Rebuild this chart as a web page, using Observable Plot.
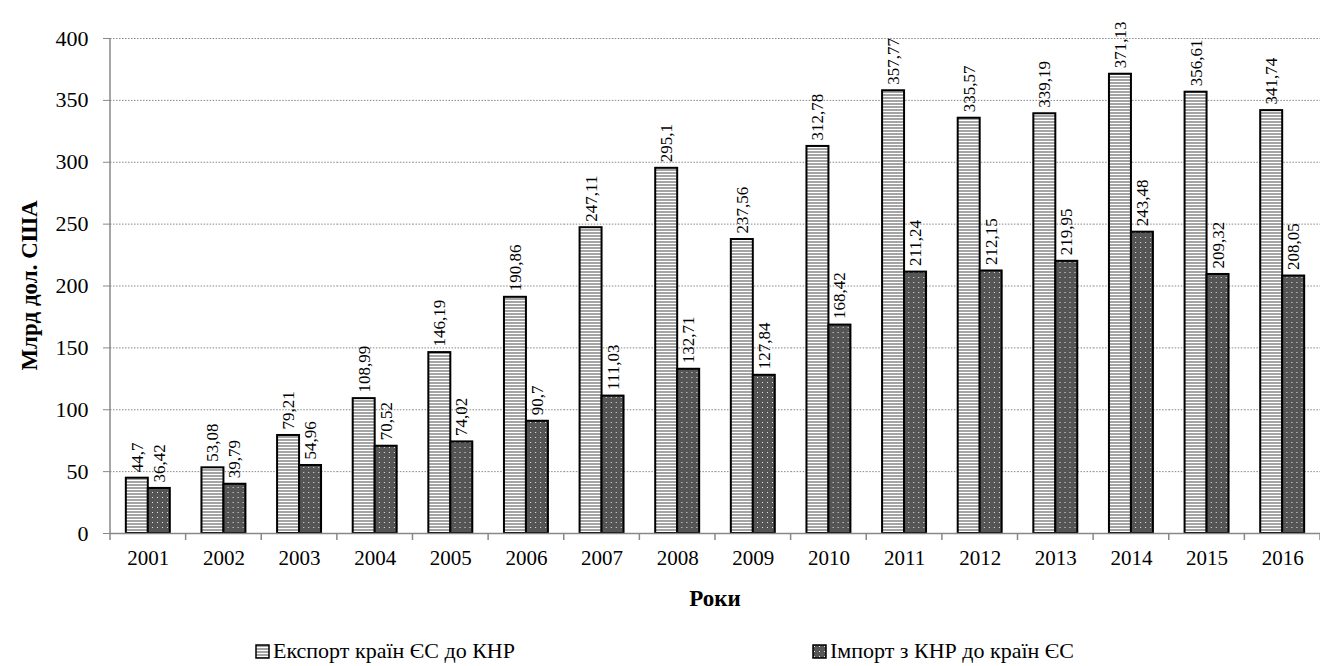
<!DOCTYPE html>
<html><head><meta charset="utf-8">
<script src="https://cdn.jsdelivr.net/npm/d3@7"></script>
<script src="https://cdn.jsdelivr.net/npm/@observablehq/plot@0.6"></script>
<style>
body{margin:0;background:#fff;font-family:"Liberation Serif","Times New Roman","DejaVu Serif",serif;width:1320px;height:666px;overflow:hidden;}
#chart svg{display:block;}
#legend{position:absolute;top:638px;left:255px;display:flex;gap:297px;font-size:22px;color:#000;}
.item{display:flex;align-items:center;gap:3px;white-space:nowrap;}
</style></head><body><div id="chart"></div><div id="legend"></div>
<script>
const years = ["2001","2002","2003","2004","2005","2006","2007","2008","2009","2010","2011","2012","2013","2014","2015","2016"];
const exportVals = [44.7,53.08,79.21,108.99,146.19,190.86,247.11,295.1,237.56,312.78,357.77,335.57,339.19,371.13,356.61,341.74];
const importVals = [36.42,39.79,54.96,70.52,74.02,90.7,111.03,132.71,127.84,168.42,211.24,212.15,219.95,243.48,209.32,208.05];
const seriesNames = ["Експорт країн ЄС до КНР","Імпорт з КНР до країн ЄС"];
const yTicks = [0,50,100,150,200,250,300,350,400];
const patternIds = ["pat-export","pat-import"];
const FONT = "'Liberation Serif','Times New Roman','DejaVu Serif',serif";

const data = years.flatMap((yr,i)=>[
  {year:yr, series:seriesNames[0], value:exportVals[i]},
  {year:yr, series:seriesNames[1], value:importVals[i]}
]);
const fmt = v => String(v).replace(".", ",");

const defsMarkup = `
<pattern id="pat-export" patternUnits="userSpaceOnUse" width="6" height="3">
  <rect width="6" height="3" fill="#a4a4a4"/><rect width="6" height="1" fill="#ffffff"/>
</pattern>
<pattern id="pat-import" patternUnits="userSpaceOnUse" width="5" height="5">
  <rect width="5" height="5" fill="#555555"/><rect x="2" y="2" width="1" height="1" fill="#e6e6e6"/>
</pattern>`;

const chart = Plot.plot({
  width:1320, height:620, marginLeft:110, marginRight:0, marginTop:38, marginBottom:87,
  style:{fontFamily:FONT, background:"white", color:"#000"},
  fx:{domain:years, paddingInner:0, paddingOuter:0, round:false, label:null},
  x:{domain:seriesNames, paddingInner:0, paddingOuter:0.72, round:false, axis:null},
  y:{domain:[0,400], label:null},
  color:{domain:seriesNames, range:patternIds.map(id=>`url(#${id})`)},
  marks:[
    Plot.gridY(yTicks,{stroke:"#888", strokeOpacity:1, strokeDasharray:"1.5,1.5"}),
    Plot.barY(data,{fx:"year", x:"series", y:"value", fill:"series", stroke:"#000", strokeWidth:2}),
    Plot.ruleY([0],{stroke:"#888", strokeWidth:1.5}),
    Plot.text(data,{fx:"year", x:"series", y:"value", text:d=>fmt(d.value), rotate:-90, textAnchor:"start", dy:-6, fontSize:17, fill:"#000"}),
    Plot.axisY(yTicks,{tickSize:7, tickPadding:15, fontSize:22, stroke:"#888", label:null}),
    Plot.axisFx({anchor:"bottom", tickSize:0, tickPadding:17, fontSize:21, label:null, tickFormat:d=>d})
  ]
});

const svg = d3.select(chart);
svg.insert("defs", ":first-child").html(defsMarkup);
const fx = chart.scale("fx"), y = chart.scale("y");
const yb = y.apply(0), yt = y.apply(400);
const g = svg.append("g").attr("stroke", "#888").attr("stroke-width", 1.5);
g.append("line").attr("x1", fx.range[0]).attr("x2", fx.range[0]).attr("y1", yt).attr("y2", yb + 7);
years.forEach(yr => {
  const xs = fx.apply(yr) + fx.step;
  g.append("line").attr("x1", xs).attr("x2", xs).attr("y1", yb).attr("y2", yb + 7);
});
// axis titles
svg.append("text").text("Роки")
  .attr("x", (fx.range[0] + fx.range[1]) / 2).attr("y", yb + 73)
  .attr("text-anchor", "middle").attr("font-family", FONT).attr("font-size", 23).attr("font-weight", "bold");
svg.append("text").text("Млрд дол. США")
  .attr("transform", `translate(37,${(yb + yt) / 2}) rotate(-90)`)
  .attr("text-anchor", "middle").attr("font-family", FONT).attr("font-size", 23).attr("font-weight", "bold");
document.getElementById("chart").appendChild(chart);

const legend = d3.select("#legend");
seriesNames.forEach((name, i) => {
  const it = legend.append("div").attr("class", "item");
  const s = it.append("svg").attr("width", 15).attr("height", 15);
  s.append("rect").attr("x", 1).attr("y", 1).attr("width", 13).attr("height", 13)
    .attr("fill", `url(#${patternIds[i]})`).attr("stroke", "#000").attr("stroke-width", 1.5);
  it.append("span").text(name);
});
</script>
</body></html>
